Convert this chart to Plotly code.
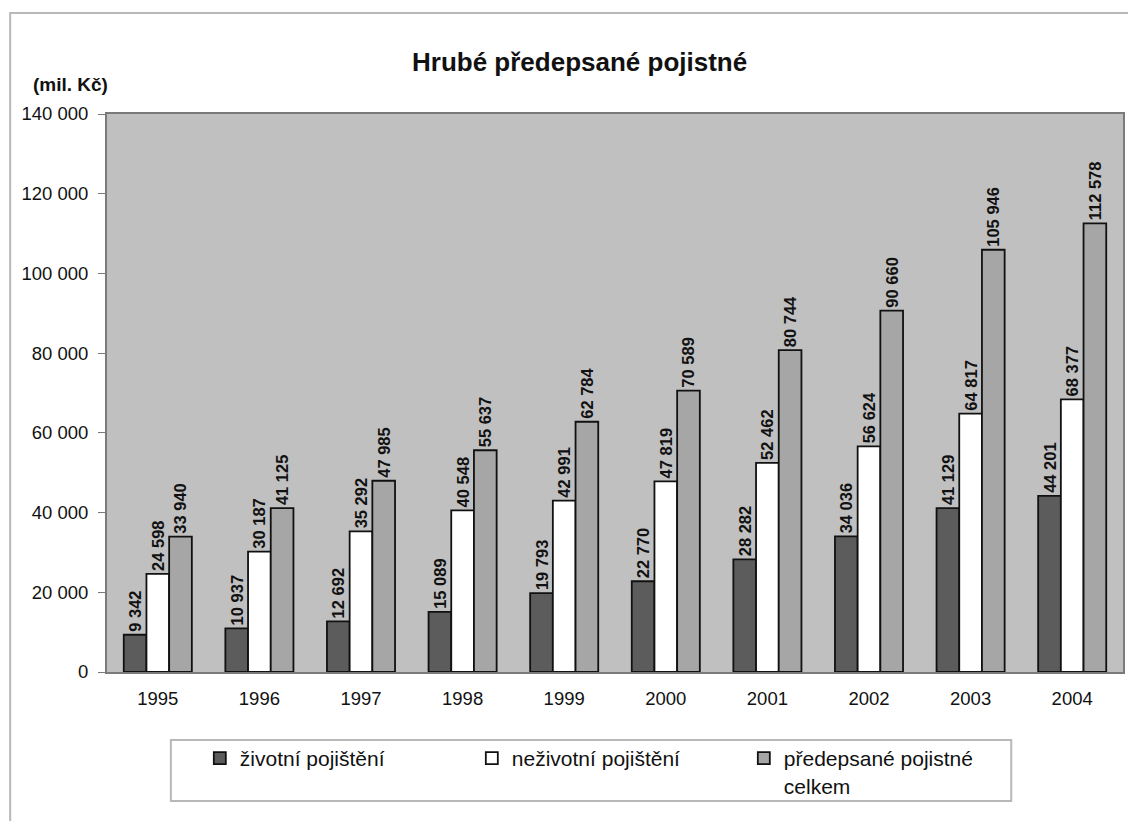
import plotly.graph_objects as go

years = ["1995", "1996", "1997", "1998", "1999", "2000", "2001", "2002", "2003", "2004"]
zivotni = [9342, 10937, 12692, 15089, 19793, 22770, 28282, 34036, 41129, 44201]
nezivotni = [24598, 30187, 35292, 40548, 42991, 47819, 52462, 56624, 64817, 68377]
celkem = [33940, 41125, 47985, 55637, 62784, 70589, 80744, 90660, 105946, 112578]
names = ["životní pojištění", "neživotní pojištění", "předepsané pojistné<br>celkem"]
colors = ["#5c5c5c", "#ffffff", "#a6a6a6"]

FONT = "Liberation Sans, Arial, sans-serif"

fig = go.Figure()
for name, vals, col in zip(names, [zivotni, nezivotni, celkem], colors):
    fig.add_trace(go.Bar(
        x=years, y=vals, name=name,
        marker=dict(color=col, line=dict(color="#111111", width=1.8)),
        texttemplate="<b>%{y:,}</b>", textposition="outside", textangle=-90,
        constraintext="none", cliponaxis=False,
        textfont=dict(family=FONT, size=16.5, color="#111111"),
    ))

# page body has an 8px margin; target coordinates are screen coordinates
OFF = 8
W, H = 1136 - OFF, 821 - OFF
L, R, T, B = 107 - OFF, 11, 114 - OFF, 821 - 672
pw, ph = W - L - R, H - T - B

def px(x):
    return (x - OFF - L) / pw

def py(y):
    return (H - B - (y - OFF)) / ph

fig.update_layout(
    width=W, height=H,
    margin=dict(l=L, r=R, t=T, b=B),
    paper_bgcolor="white", plot_bgcolor="#c0c0c0",
    separators=". ",
    barmode="group", bargap=0.33, bargroupgap=0,
    font=dict(family=FONT, size=18, color="#111111"),
    showlegend=True,
    legend=dict(
        orientation="h", x=px(200), y=py(738), xanchor="left", yanchor="top",
        borderwidth=0, bgcolor="rgba(0,0,0,0)",
        font=dict(family=FONT, size=21, color="#111111"),
        entrywidth=227, entrywidthmode="pixels", itemwidth=30,
        valign="top",
    ),
    xaxis=dict(
        type="category", showgrid=False, ticks="", showline=True, mirror=True,
        linecolor="#7a7a7a", linewidth=2, ticklabelstandoff=9,
        tickfont=dict(family=FONT, size=18.5, color="#111111"),
    ),
    yaxis=dict(
        range=[0, 140000], dtick=20000, tickformat=",", showgrid=False,
        ticks="outside", ticklen=7, tickcolor="#7a7a7a", showline=True, mirror=True,
        linecolor="#7a7a7a", linewidth=2, zeroline=False, ticklabelstandoff=6,
        tickfont=dict(family=FONT, size=18.5, color="#111111"),
    ),
    annotations=[
        dict(text="<b>Hrubé předepsané pojistné</b>", xref="paper", yref="paper",
             x=px(580), y=py(62), xanchor="center", yanchor="middle", showarrow=False,
             font=dict(family=FONT, size=26, color="#111111")),
        dict(text="<b>(mil. Kč)</b>", xref="paper", yref="paper",
             x=px(31), y=py(85), xanchor="left", yanchor="middle", showarrow=False,
             font=dict(family=FONT, size=19, color="#111111")),
    ],
    shapes=[
        dict(type="rect", xref="paper", yref="paper", x0=px(10), x1=px(1160),
             y0=py(840), y1=py(13), line=dict(color="#b8b8b8", width=2), layer="below"),
        dict(type="rect", xref="paper", yref="paper", x0=px(171), x1=px(1013),
             y0=py(801), y1=py(740), line=dict(color="#b8b8b8", width=2),
             fillcolor="white", layer="below"),
    ],
)

fig.write_html("out.html")
